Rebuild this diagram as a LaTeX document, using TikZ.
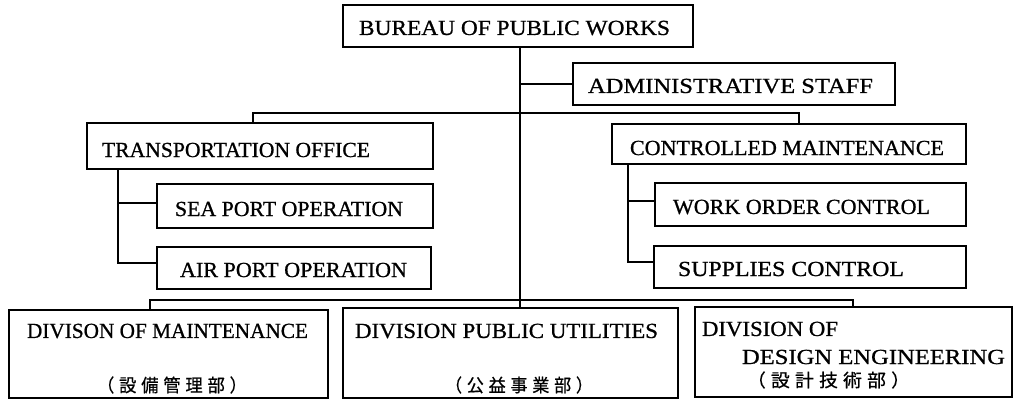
\documentclass[tikz,border=0pt]{standalone}
\usepackage{fontspec}
\setmainfont{Liberation Serif}
\newfontfamily\lat{Liberation Serif}[FakeBold=0.8]
\newfontfamily\cjk{Noto Sans CJK JP}[FakeBold=0.6]
\usepackage{graphicx}
\usetikzlibrary{fit}
\newcommand\fitw[2]{\resizebox{#1pt}{\height}{#2}}
\newcommand\jg{\kern5pt}
\begin{document}
\begin{tikzpicture}[x=1pt,y=-1pt,
  box/.style={draw, line width=1.5pt, inner sep=0pt},
  lbl/.style={inner sep=0pt, font=\lat\fontsize{21.5}{24}\selectfont},
  jp/.style={inner sep=0pt, font=\cjk\fontsize{18}{20}\selectfont},
  conn/.style={line width=1.4pt}]
\useasboundingbox[fill=white] (0,0) rectangle (1014,401);
% boxes
\node[box, fit={(343,5) (693,47)}] (bureau) {};
\node[box, fit={(573,63) (895,105)}] (admin) {};
\node[box, fit={(87,123) (433,169)}] (transport) {};
\node[box, fit={(157,184) (433,228)}] (sea) {};
\node[box, fit={(157,247) (431,289)}] (air) {};
\node[box, fit={(612,124) (966,164)}] (controlled) {};
\node[box, fit={(655,183) (966,226)}] (woc) {};
\node[box, fit={(654,246) (966,288)}] (supplies) {};
\node[box, fit={(9,310) (328,398)}] (divmaint) {};
\node[box, fit={(343,308) (678,398)}] (divpub) {};
\node[box, fit={(695,307) (1012,397)}] (divdes) {};
% labels
\node[lbl] (tbureau) at (514.5,28) {\fitw{311}{BUREAU OF PUBLIC WORKS}};
\node[lbl] (tadmin) at (730.5,86) {\fitw{285}{ADMINISTRATIVE STAFF}};
\node[lbl] (ttransport) at (236,150) {\fitw{268}{TRANSPORTATION OFFICE}};
\node[lbl] (tsea) at (289,209) {\fitw{228}{SEA PORT OPERATION}};
\node[lbl] (tair) at (293.5,270) {\fitw{227}{AIR PORT OPERATION}};
\node[lbl] (tcontrolled) at (787,148) {\fitw{314}{CONTROLLED MAINTENANCE}};
\node[lbl] (twoc) at (801.5,207) {\fitw{257}{WORK ORDER CONTROL}};
\node[lbl] (tsupplies) at (791,269) {\fitw{226}{SUPPLIES CONTROL}};
\node[lbl] (tdivmaint) at (167.5,331) {\fitw{281}{DIVISON OF MAINTENANCE}};
\node[jp] (jdivmaint) at (172,385) {\fitw{150}{（\jg 設\jg 備\jg 管\jg 理\jg 部\jg ）}};
\node[lbl] (tdivpub) at (506.5,331) {\fitw{303}{DIVISION PUBLIC UTILITIES}};
\node[jp] (jdivpub) at (519,385) {\fitw{148}{（\jg 公\jg 益\jg 事\jg 業\jg 部\jg ）}};
\node[lbl] (tdivdes1) at (770,329) {\fitw{136}{DIVISION OF}};
\node[lbl] (tdivdes2) at (873.5,357) {\fitw{263}{DESIGN ENGINEERING}};
\node[jp] (jdivdes) at (828.5,380) {\fitw{163}{（\jg 設\jg 計\jg 技\jg 術\jg 部\jg ）}};
% connector coordinates
\coordinate (tx) at (520,0);
\coordinate (ul) at (253,113);
\coordinate (ur) at (799,113);
\coordinate (tv) at (118,0);
\coordinate (tsb) at (118,203);
\coordinate (tab) at (118,263);
\coordinate (cv) at (628,0);
\coordinate (cwb) at (628,201);
\coordinate (csb) at (628,262);
\coordinate (ll) at (150,300);
\coordinate (lr) at (853,300);
% connectors
\draw[conn] (tx |- bureau.south) -- (tx |- divpub.north);
\draw[conn] (tx |- admin.west) -- (admin.west);
\draw[conn] (ul |- transport.north) -- (ul) -- (ur) -- (ur |- controlled.north);
\draw[conn] (tv |- transport.south) -- (tab) -- (tab -| air.west);
\draw[conn] (tsb) -- (tsb -| sea.west);
\draw[conn] (cv |- controlled.south) -- (csb) -- (csb -| supplies.west);
\draw[conn] (cwb) -- (cwb -| woc.west);
\draw[conn] (ll |- divmaint.north) -- (ll) -- (lr) -- (lr |- divdes.north);
\end{tikzpicture}
\end{document}
